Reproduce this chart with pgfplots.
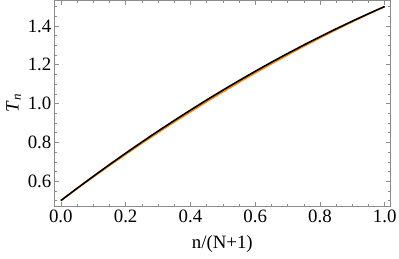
\documentclass[border=0pt]{standalone}
\usepackage{pgfplots}
\pgfplotsset{compat=1.18}
\usepackage{fontspec}
\setmainfont{Liberation Serif}
\definecolor{morange}{rgb}{1,0.5,0}
\definecolor{framegray}{gray}{0.55}
\begin{document}
\fontsize{19}{22}\selectfont
\begin{tikzpicture}
\begin{axis}[
  scale only axis,
  width=339pt, height=208pt,
  xmin=-0.021, xmax=1.018,
  ymin=0.468, ymax=1.532,
  xtick={0,0.2,...,1.0},
  ytick={0.6,0.8,...,1.41},
  minor xtick={0.05,0.1,0.15,0.25,0.3,0.35,0.45,0.5,0.55,0.65,0.7,0.75,0.85,0.9,0.95},
  minor ytick={0.5,0.55,0.65,0.7,0.75,0.85,0.9,0.95,1.05,1.1,1.15,1.25,1.3,1.35,1.45,1.5},
  tick align=inside,
  major tick length=5pt,
  minor tick length=3pt,
  every tick/.style={framegray, line width=0.5pt},
  axis line style={framegray, line width=0.6pt},
  xticklabel style={/pgf/number format/.cd, fixed, fixed zerofill, precision=1},
  yticklabel style={/pgf/number format/.cd, fixed, fixed zerofill, precision=1},
  /pgf/number format/assume math mode=true,
  ticklabel style={font=\fontsize{19}{22}\selectfont, text=black, inner sep=2.5pt},
  xlabel={n/(N+1)},
  ylabel={\textit{T}\raisebox{-0.25ex}{\fontsize{13}{15}\selectfont\textit{n}}},
  label style={font=\fontsize{19}{22}\selectfont},
  xlabel style={yshift=-4pt},
  ylabel style={yshift=-2pt},
]
\addplot[morange, line width=1.6pt] coordinates {
(0,0.5) (0.05,0.5614) (0.1,0.6216) (0.15,0.6806) (0.2,0.7384) (0.25,0.795)
(0.3,0.8504) (0.35,0.9046) (0.4,0.9576) (0.45,1.0094) (0.5,1.06) (0.55,1.1094)
(0.6,1.1576) (0.65,1.2046) (0.7,1.2504) (0.75,1.295) (0.8,1.3384) (0.85,1.3806)
(0.9,1.4216) (0.95,1.4614) (1.0,1.5)
};
\addplot[black, line width=1.6pt] coordinates {
(0,0.5) (0.05,0.5631) (0.1,0.6248) (0.15,0.6851) (0.2,0.744) (0.25,0.8016)
(0.3,0.8578) (0.35,0.9126) (0.4,0.966) (0.45,1.0181) (0.5,1.0688) (0.55,1.1181)
(0.6,1.166) (0.65,1.2126) (0.7,1.2578) (0.75,1.3016) (0.8,1.344) (0.85,1.3851)
(0.9,1.4248) (0.95,1.4631) (1.0,1.5)
};
\end{axis}
\end{tikzpicture}
\end{document}
